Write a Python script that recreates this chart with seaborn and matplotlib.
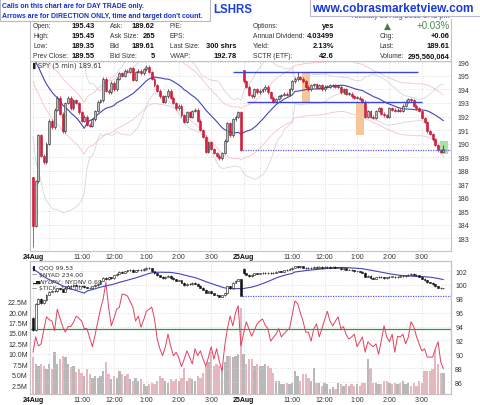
#!/usr/bin/env python3
"""
SPY 5-min intraday chart for 24-25 Aug 2015, with a lower panel of
QQQ, breadth line and SPY volume.
"""

import numpy as np
import pandas as pd
import matplotlib
matplotlib.use("Agg")
import matplotlib.pyplot as plt
from matplotlib.patches import Rectangle
from matplotlib.lines import Line2D
import seaborn as sns


# ---- SPY 5-min closes (24 Aug: 78 bars, 25 Aug: 75 bars up to 3:40 pm) ----
spy_day1 = [183.9, 187.2, 190.6, 189.1, 188.6, 190.0, 191.7, 191.2, 192.5, 193.4,
            192.2, 190.9, 193.0, 193.4, 192.6, 193.2, 193.0, 192.3, 191.7, 192.0,
            191.4, 191.3, 191.8, 192.4, 193.1, 193.2, 194.8, 193.9, 193.8, 194.5,
            194.0, 194.8, 195.2, 195.0, 195.4, 195.3, 195.6, 194.7, 195.3, 195.4,
            195.2, 195.5, 195.7, 195.3, 194.8, 194.3, 193.9, 193.5, 193.1, 193.5,
            193.9, 193.4, 193.0, 192.6, 192.8, 192.1, 191.6, 192.3, 192.0, 192.4,
            192.5, 191.7, 191.0, 190.5, 189.4, 190.1, 189.6, 189.3, 189.1, 188.9,
            189.3, 190.2, 191.5, 190.6, 191.8, 192.0, 192.3, 189.55]
spy_day2 = [194.6, 194.2, 193.6, 193.5, 194.0, 193.8, 193.9, 194.0, 194.2, 193.8,
            193.4, 193.1, 193.3, 193.5, 193.6, 193.7, 193.6, 194.0, 194.6, 194.8,
            194.9, 194.8, 194.6, 194.2, 194.0, 194.3, 194.4, 194.1, 194.3, 194.0,
            194.2, 194.2, 194.3, 194.3, 194.2, 194.2, 193.8, 194.0, 193.7, 193.7,
            193.5, 193.4, 193.4, 193.3, 193.1, 192.0, 192.4, 192.0, 191.9, 192.4,
            192.6, 192.2, 192.1, 192.0, 192.6, 192.5, 192.4, 192.5, 192.4, 192.8,
            193.1, 193.3, 193.2, 192.8, 192.6, 192.4, 191.9, 191.6, 190.9, 190.7,
            190.3, 189.9, 189.5, 189.4, 189.61]
spy_day_open = [187.49, 195.43]
# long wicks that stand out (bar index -> (low, high))
spy_wicks = {0: (182.3, 187.5), 78: (194.5, 195.45), 98: (194.6, 195.3), 152: (189.35, 189.9)}
# last closes of 21 Aug, only used to warm up the moving averages
spy_prev_session = [198.2, 198.0, 197.7, 197.5, 197.8, 197.4, 197.1, 197.3, 197.0, 196.8,
                    197.2, 196.9, 196.7, 197.0, 196.8, 196.6, 196.9, 197.2, 197.63]
spy_prev_close = 189.55

# ---- QQQ 5-min closes ----
qqq_day1 = [93.5, 97.3, 98.0, 97.4, 97.8, 98.6, 99.0, 99.2, 99.1, 99.5,
            99.4, 99.0, 99.6, 99.9, 99.8, 100.0, 99.9, 99.8, 99.9, 99.7,
            99.6, 99.6, 99.8, 100.0, 100.2, 100.6, 101.0, 100.8, 101.1, 101.0,
            101.4, 101.6, 101.9, 101.8, 102.0, 102.1, 102.2, 101.9, 102.1, 102.2,
            102.1, 102.3, 102.5, 102.4, 102.0, 101.7, 101.4, 101.2, 101.0, 101.2,
            101.3, 101.0, 100.8, 100.6, 100.7, 100.3, 100.0, 100.2, 100.1, 100.3,
            100.2, 99.9, 99.6, 99.3, 98.9, 99.1, 98.8, 98.6, 98.5, 98.3,
            98.5, 98.8, 99.8, 99.5, 100.3, 100.6, 100.8, 98.45]
qqq_day2 = [101.7, 101.5, 101.3, 101.5, 101.7, 101.6, 101.7, 101.8, 101.7, 101.8,
            101.7, 101.8, 101.9, 102.0, 101.9, 102.1, 102.2, 102.3, 102.5, 102.7,
            102.6, 102.7, 102.5, 102.4, 102.5, 102.4, 102.6, 102.5, 102.6, 102.5,
            102.6, 102.6, 102.5, 102.6, 102.5, 102.5, 102.3, 102.4, 102.2, 102.2,
            102.1, 102.0, 102.0, 101.9, 101.8, 101.2, 101.3, 101.0, 100.9, 101.1,
            101.2, 101.1, 101.0, 101.1, 101.2, 101.2, 101.1, 101.2, 101.3, 101.3,
            101.4, 101.5, 101.6, 101.5, 101.4, 101.2, 100.9, 100.7, 100.4, 100.3,
            100.1, 99.8, 99.6, 99.5, 99.53]
qqq_day_open = [95.3, 102.3]
qqq_prev_session = [103.6, 103.4, 103.5, 103.2, 103.3, 103.0, 102.8, 103.1, 102.9, 102.7,
                    102.9, 102.6, 102.4, 102.7, 102.5, 102.3, 102.6, 102.4, 102.2]
qqq_prev_close = 98.45

# ---- breadth line (drawn on the right-hand scale of the lower panel) ----
breadth_day1 = [90.3, 92.5, 91.2, 91.5, 93.5, 95.4, 95.0, 94.8, 93.4, 96.5,
                95.2, 94.0, 93.2, 94.0, 94.0, 94.6, 95.5, 95.2, 94.8, 93.7,
                93.7, 92.4, 91.1, 92.8, 94.7, 96.5, 98.0, 100.4, 96.8, 94.1,
                95.2, 96.5, 96.8, 98.7, 98.6, 98.4, 97.6, 96.8, 94.8, 95.5,
                93.9, 95.0, 96.2, 96.5, 96.8, 95.1, 92.2, 90.8, 89.8, 91.0,
                92.9, 91.2, 89.8, 90.3, 89.5, 88.2, 89.3, 90.5, 89.6, 88.6,
                90.8, 89.8, 90.5, 89.3, 88.3, 89.6, 91.1, 89.3, 90.8, 89.0,
                87.6, 91.2, 93.7, 95.5, 94.1, 96.0, 97.0, 91.2]
breadth_day2 = [93.0, 94.7, 93.6, 92.6, 93.5, 94.4, 94.8, 95.1, 94.2, 93.7,
                91.9, 92.4, 92.9, 93.7, 92.5, 93.0, 93.4, 93.7, 95.7, 97.7,
                97.3, 96.0, 94.8, 93.2, 93.2, 91.9, 93.7, 94.4, 92.5, 93.7,
                95.0, 96.2, 94.8, 94.1, 94.8, 95.4, 93.7, 94.0, 92.8, 92.2,
                92.5, 92.9, 91.1, 91.8, 92.5, 90.3, 91.8, 91.4, 91.1, 91.5,
                90.0, 92.0, 94.1, 92.5, 91.8, 92.9, 90.3, 92.6, 92.5, 92.9,
                91.5, 92.5, 94.7, 94.0, 92.6, 91.5, 90.5, 90.8, 89.6, 89.6,
                89.6, 90.8, 91.8, 88.9, 87.9]
tick_zero_level = 93.6

# ---- SPY volume, millions ----
volume_day1 = [9.2, 7.5, 7.1, 7.5, 7.1, 6.3, 7.5, 6.3, 10.4, 7.5,
               8.7, 9.5, 9.2, 7.5, 6.8, 7.1, 5.7, 6.3, 5.5, 4.7,
               6.3, 5.1, 4.3, 4.7, 4.3, 4.7, 5.9, 8.0, 5.1, 3.9,
               4.7, 4.3, 5.9, 5.1, 4.7, 5.1, 3.9, 3.5, 4.3, 3.5,
               3.9, 2.7, 2.3, 2.7, 3.1, 2.7, 3.5, 4.7, 4.3, 3.5,
               3.1, 3.9, 3.5, 3.9, 3.5, 4.3, 6.7, 3.5, 4.3, 3.9,
               3.5, 4.7, 4.3, 5.5, 7.1, 8.0, 10.4, 7.1, 7.5, 7.1,
               6.7, 8.0, 9.5, 9.5, 9.2, 9.5, 9.9, 21.0]
volume_day2 = [9.9, 7.5, 8.7, 8.7, 7.1, 7.5, 7.1, 7.1, 7.5, 7.1,
               6.7, 5.5, 3.5, 3.5, 2.7, 2.7, 3.1, 2.7, 3.1, 5.9,
               4.7, 3.5, 5.1, 5.1, 4.3, 3.5, 6.7, 3.1, 3.1, 2.3,
               3.1, 2.7, 1.5, 2.0, 1.5, 3.1, 2.7, 2.3, 2.7, 2.3,
               2.7, 2.3, 2.7, 2.3, 3.1, 3.1, 8.7, 6.7, 3.1, 3.1,
               2.7, 2.7, 3.5, 3.5, 3.1, 2.7, 3.1, 2.7, 3.1, 3.5,
               2.7, 3.1, 2.3, 3.1, 2.3, 3.5, 3.1, 5.9, 5.9, 5.9,
               6.3, 10.8, 7.5, 5.4, 5.4]

# ---- drawn annotations on the SPY panel (bar index / price) ----
resistance = (195.27, 74.0, 142.6)
support = (193.05, 79.3, 144.0)
orange_boxes = [(99.6, 102.6, 193.07, 195.3), (119.6, 122.6, 190.6, 193.07)]
last_bar_box = (150.9, 153.6, 189.2, 190.2)

# ---- time axis ----
tick_bars = [0, 6, 18, 30, 42, 54, 66, 78, 84, 96, 108, 120, 132, 144]
tick_labels = ["24Aug", "", "11:00", "12:00", "1:00", "2:00", "3:00",
               "25Aug", "", "11:00", "12:00", "1:00", "2:00", "3:00"]

# ---- header ----
left_rows = [("Open:", "195.43", "Ask:", "189.62", "P/E:", ""),
             ("High:", "195.45", "Ask Size:", "265", "EPS:", ""),
             ("Low:", "189.35", "Bid", "189.61", "Last Size:", "300 shrs"),
             ("Prev Close:", "189.55", "Bid Size:", "5", "VWAP:", "192.78")]
right_rows = [("Options:", "yes", "", ""),
              ("Annual Dividend:", "4.03499", "Chg:", "+0.06"),
              ("Yield:", "2.13%", "Last:", "189.61"),
              ("SCTR (ETF):", "42.6", "Volume:", "295,560,064")]


sns.set_theme(style="white")
plt.rcParams["font.family"] = ["Liberation Sans", "DejaVu Sans"]

W, H = 480, 406
fig = plt.figure(figsize=(W / 100, H / 100), dpi=100)
fig.patch.set_facecolor("white")


def box(x0, y0, x1, y1):
    return [x0 / W, 1 - y1 / H, (x1 - x0) / W, (y1 - y0) / H]


def ftext(x, y, s, **kw):
    kw.setdefault("va", "center")
    return fig.text(x / W, 1 - y / H, s, **kw)


def candles(ax, x, o, c, lo, hi, up_face, up_edge, dn_face, dn_edge, width=0.72):
    up = c >= o
    body_lo = np.minimum(o, c)
    body_h = np.maximum(np.abs(c - o), 0.03)
    ax.vlines(x, lo, hi, colors=np.where(up, up_edge, dn_edge), lw=0.5, zorder=3)
    ax.bar(x, body_h, bottom=body_lo, width=width,
           color=np.where(up, up_face, dn_face), edgecolor=np.where(up, up_edge, dn_edge),
           linewidth=0.4, zorder=3.5)


n1 = len(spy_day1)
bars = np.arange(n1 + len(spy_day2))
XLIM = (-1.1, 154.8)

# SPY series
spy_close = np.array(spy_day1 + spy_day2)
spy_open = np.r_[spy_day_open[0], spy_close[:-1]]
spy_open[n1] = spy_day_open[1]
spy_hi = np.maximum(spy_open, spy_close) + 0.1
spy_lo = np.minimum(spy_open, spy_close) - 0.1
for i, (lo, hi) in spy_wicks.items():
    spy_lo[i], spy_hi[i] = lo, hi

k = len(spy_prev_session)
spy_all = pd.Series(spy_prev_session + spy_day1 + spy_day2)
spy_ma = spy_all.rolling(20).mean().iloc[k:].to_numpy()
spy_sd = spy_all.rolling(20).std().iloc[k:].to_numpy()

# QQQ series
qqq_close = np.array(qqq_day1 + qqq_day2)
qqq_open = np.r_[qqq_day_open[0], qqq_close[:-1]]
qqq_open[n1] = qqq_day_open[1]
qqq_hi = np.maximum(qqq_open, qqq_close) + 0.08
qqq_lo = np.minimum(qqq_open, qqq_close) - 0.08
kq = len(qqq_prev_session)
qqq_ma = pd.Series(qqq_prev_session + qqq_day1 + qqq_day2).rolling(20).mean().iloc[kq:].to_numpy()

grid_kw = dict(color="#d4d4d4", linestyle=(0, (1, 2)), linewidth=0.6)
spine_col = "#c4c4c4"

# ================= SPY panel =================
ax = fig.add_axes(box(30, 62, 451, 252))
for x0, x1, y0, y1 in orange_boxes:
    ax.add_patch(Rectangle((x0, y0), x1 - x0, y1 - y0, color="#f7c697", lw=0, zorder=1))
bx0, bx1, by0, by1 = last_bar_box
ax.add_patch(Rectangle((bx0, by0), bx1 - bx0, by1 - by0, color="#a6e3a0", lw=0, zorder=1))

sns.lineplot(x=bars, y=spy_ma + 2 * spy_sd, ax=ax, color="#d6d6d6", lw=0.6, zorder=2)
sns.lineplot(x=bars, y=spy_ma - 2 * spy_sd, ax=ax, color="#d6d6d6", lw=0.6, zorder=2)
sns.lineplot(x=bars, y=spy_ma * 1.01, ax=ax, color="#f3c3ca", lw=0.6, zorder=2)
sns.lineplot(x=bars, y=spy_ma * 0.99, ax=ax, color="#f3c3ca", lw=0.6, zorder=2)
sns.lineplot(x=bars, y=spy_ma, ax=ax, color="#4444b8", lw=0.8, zorder=2.5)

candles(ax, bars, spy_open, spy_close, spy_lo, spy_hi,
        "#bdbdbd", "#2a2a2a", "#d81c3f", "#c4102e")

for level, x0, x1 in (resistance, support):
    ax.hlines(level, x0, x1, color="#3a46d8", lw=1.0, zorder=4)
ax.hlines(spy_prev_close, n1 - 1.3, XLIM[1], color="#5a5ae6", lw=0.9,
          linestyle=(0, (1, 1)), zorder=4)

ax.set_xlim(*XLIM)
ax.set_ylim(182.04, 196.11)
ax.yaxis.tick_right()
ax.set_yticks(range(183, 197))
ax.set_xticks(tick_bars)
ax.set_xticklabels(tick_labels)
ax.tick_params(axis="both", length=0, labelsize=5, colors="#333333")
ax.tick_params(axis="y", pad=4.5)
ax.tick_params(axis="x", pad=1.2)
ax.grid(True, **grid_kw)
ax.set_axisbelow(True)
ax.set_xlabel("")
ax.set_ylabel("")
for sp in ax.spines.values():
    sp.set_color(spine_col)
    sp.set_linewidth(0.8)

# ================= lower panel =================
axv = fig.add_axes(box(30, 262, 451, 395))
spy_prev_bar = np.r_[spy_prev_session[-1], spy_close[:-1]]
vol_dir = np.where(spy_close >= spy_prev_bar, "up", "down")
sns.barplot(x=bars, y=np.array(volume_day1 + volume_day2), hue=vol_dir,
            palette={"up": "#b8b8b8", "down": "#eeafba"}, native_scale=True,
            dodge=False, width=0.85, errorbar=None, legend=False, linewidth=0, ax=axv)
axv.set_ylim(0.34, 32.3)
axv.set_yticks([2.5 * i for i in range(1, 10)])
axv.set_yticklabels([f"{2.5 * i:.1f}M" for i in range(1, 10)])
axv.set_xlabel("")
axv.set_ylabel("")
axv.grid(True, axis="x", **grid_kw)
axv.set_axisbelow(True)

axq = axv.twinx()
axq.axhline(tick_zero_level, color="#2f9a3c", lw=0.9, zorder=2)
sns.lineplot(x=bars, y=np.array(breadth_day1 + breadth_day2), ax=axq,
             color="#e2405e", lw=0.7, zorder=2.5)
sns.lineplot(x=bars, y=qqq_ma, ax=axq, color="#4444b8", lw=0.8, zorder=3)
candles(axq, bars, qqq_open, qqq_close, qqq_lo, qqq_hi,
        "#ffffff", "#111111", "#111111", "#111111", width=0.7)
axq.hlines(qqq_prev_close, n1 - 1.3, XLIM[1], color="#5a5ae6", lw=0.9,
           linestyle=(0, (1, 1)), zorder=4)
axq.set_ylim(84.27, 103.46)
axq.set_yticks(range(86, 103, 2))
axq.set_ylabel("")
axq.grid(True, axis="y", **grid_kw)

axv.set_xlim(*XLIM)
axv.set_xticks(tick_bars)
axv.set_xticklabels(tick_labels)
axv.tick_params(axis="both", length=0, labelsize=5, colors="#333333")
axv.tick_params(axis="y", pad=1.5)
axv.tick_params(axis="x", pad=1.2)
axq.tick_params(axis="y", length=0, labelsize=5, colors="#333333", pad=3)
for a in (axv, axq):
    for sp in a.spines.values():
        sp.set_color(spine_col)
        sp.set_linewidth(0.8)

for a in (ax, axv):
    for t in a.get_xticklabels():
        if "Aug" in t.get_text():
            t.set_fontweight("bold")
            t.set_color("#111111")

# ---- panel legends ----
ftext(32, 66, "\u258c", fontsize=4.6, color="#222222", family="DejaVu Sans")
ftext(38, 66, "SPY (5 min) 189.61", fontsize=4.8, color="#333333", family="DejaVu Sans")
legend_rows = [("\u258c", "QQQ 99.53"), ("\u2014", "$NYAD 234.00"),
               ("\u2582\u2585", "$NYUPV:$NYDNV 0.69"), ("\u2014", "$TICK -106.00")]
for j, (icon, label) in enumerate(legend_rows):
    y = 268 + 7 * j
    ftext(32, y, icon, fontsize=3.8, color="#222222", family="DejaVu Sans")
    ftext(39, y, label, fontsize=4.4, color="#333333", family="DejaVu Sans")

# ---- header ----
fig.add_artist(Line2D([30 / W, 30 / W], [1 - 20 / H, 1 - 62 / H], color=spine_col, lw=0.8))
fig.add_artist(Line2D([451 / W, 451 / W], [1 - 20 / H, 1 - 62 / H], color=spine_col, lw=0.8))

for j, (l1, v1, l2, v2, l3, v3) in enumerate(left_rows):
    y = 27 + 10 * j
    ftext(33, y, l1, fontsize=4.9, color="#333333")
    ftext(95, y, v1, fontsize=5.4, color="#111111", weight="bold", ha="right")
    ftext(110, y, l2, fontsize=4.9, color="#333333")
    ftext(155, y, v2, fontsize=5.4, color="#111111", weight="bold", ha="right")
    ftext(170, y, l3, fontsize=4.9, color="#333333")
    ftext(237, y, v3, fontsize=5.4, color="#111111", weight="bold", ha="right")

for j, (l1, v1, l2, v2) in enumerate(right_rows):
    y = 27 + 10 * j
    ftext(253, y, l1, fontsize=4.9, color="#333333")
    ftext(334, y, v1, fontsize=5.4, color="#111111", weight="bold", ha="right")
    ftext(380, y, l2, fontsize=4.9, color="#333333")
    ftext(450, y, v2, fontsize=5.4, color="#111111", weight="bold", ha="right")
ftext(387, 26, "\u25b2", fontsize=6.5, color="#3f7f3f", ha="center", family="DejaVu Sans")
ftext(450, 26, "+0.03%", fontsize=7, color="#4a8a4a", ha="right")
ftext(450, 16.5, "Tuesday 25 Aug 2015 3:42 pm", fontsize=5.3, color="#555555", ha="right")

# title fragment and the two overlay boxes
ftext(213, 10, "LSHRS", fontsize=8.3, color="#2040d0", weight="bold")
fig.add_artist(Rectangle((0, 1 - 22 / H), 210 / W, 22 / H, transform=fig.transFigure,
                         facecolor="white", edgecolor="#b8b8c8", lw=0.8, zorder=5))
ftext(2, 7, "Calls on this chart are for DAY TRADE only.", fontsize=4.95,
      color="#1432c8", weight="bold", zorder=6)
ftext(2, 16.5, "Arrows are for DIRECTION ONLY, time and target don't count.", fontsize=4.95,
      color="#1432c8", weight="bold", zorder=6)
fig.add_artist(Rectangle((310 / W, 1 - 17 / H), 175 / W, 17.5 / H, transform=fig.transFigure,
                         facecolor="white", edgecolor="#b8b8c8", lw=0.8, zorder=5))
ftext(393, 8.5, "www.cobrasmarketview.com", fontsize=8.6, color="#1a3ad8",
      weight="bold", ha="center", zorder=6)

fig.savefig("out.png", dpi=100, facecolor="white")
plt.close(fig)
